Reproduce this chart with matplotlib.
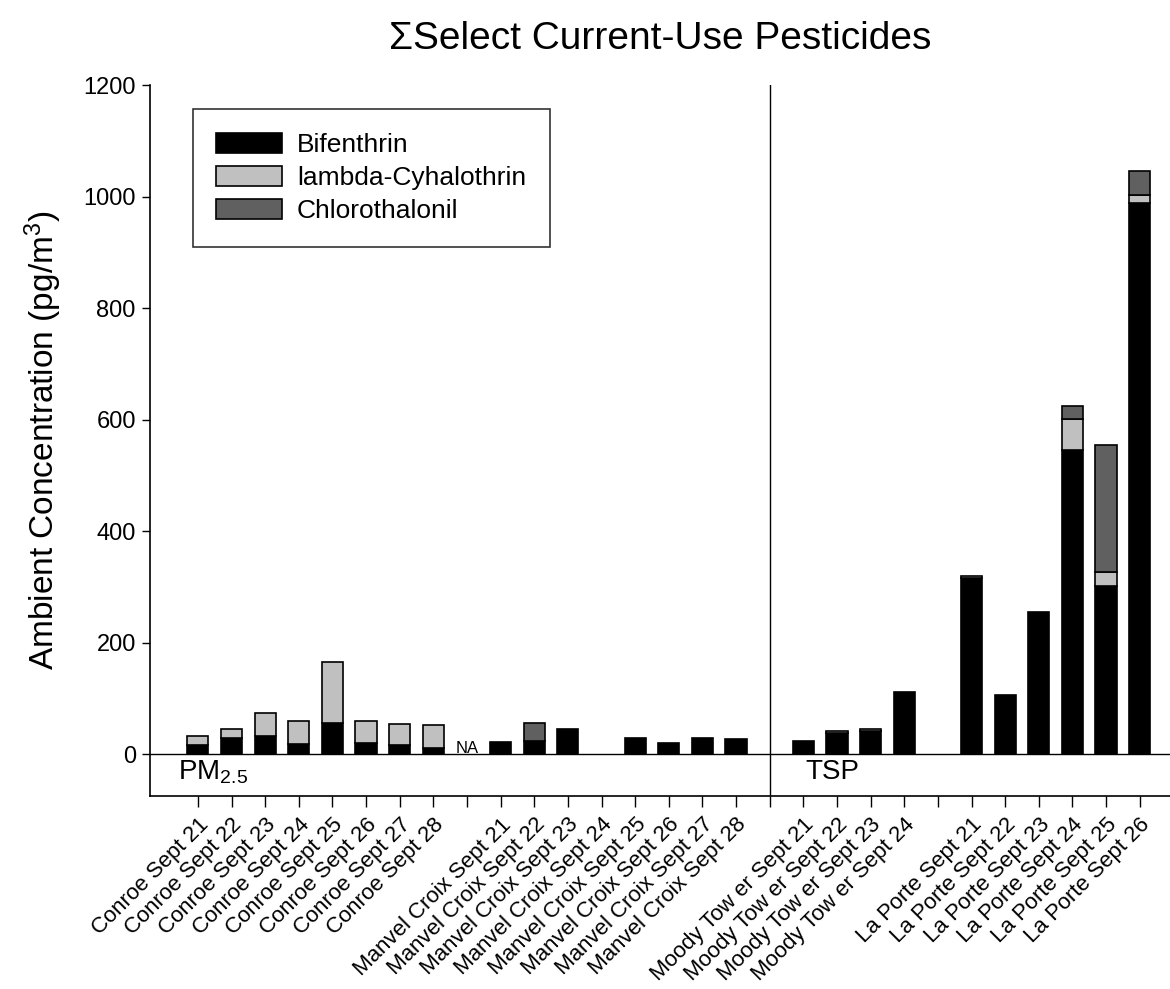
import numpy as np
import matplotlib
matplotlib.use("Agg")
import matplotlib.pyplot as plt
from matplotlib.patches import Patch

plt.rcParams['font.family'] = ['Liberation Sans', 'DejaVu Sans']
plt.rcParams['mathtext.fontset'] = 'custom'
plt.rcParams['mathtext.rm'] = 'Liberation Sans'
plt.rcParams['mathtext.it'] = 'Liberation Sans:italic'

# categories, in plot order ('' = empty slot)
labels = ['Conroe Sept 21', 'Conroe Sept 22', 'Conroe Sept 23', 'Conroe Sept 24',
          'Conroe Sept 25', 'Conroe Sept 26', 'Conroe Sept 27', 'Conroe Sept 28',
          '',
          'Manvel Croix Sept 21', 'Manvel Croix Sept 22', 'Manvel Croix Sept 23',
          'Manvel Croix Sept 24', 'Manvel Croix Sept 25', 'Manvel Croix Sept 26',
          'Manvel Croix Sept 27', 'Manvel Croix Sept 28',
          '',
          'Moody Tow er Sept 21', 'Moody Tow er Sept 22', 'Moody Tow er Sept 23',
          'Moody Tow er Sept 24',
          '',
          'La Porte Sept 21', 'La Porte Sept 22', 'La Porte Sept 23',
          'La Porte Sept 24', 'La Porte Sept 25', 'La Porte Sept 26']

bifenthrin = [16, 30, 32, 18, 56, 21, 16, 11,
              0,
              22, 23, 45, 0, 30, 21, 29, 27,
              0,
              23, 39, 41, 111,
              0,
              316, 106, 256, 545, 301, 988]
lambda_cyh = [16, 15, 42, 41, 109, 38, 38, 41,
              0,
              0, 0, 0, 0, 0, 0, 0, 0,
              0,
              0, 3, 4, 0,
              0,
              3, 0, 0, 56, 25, 15]
chlorothal = [0, 0, 0, 0, 0, 0, 0, 0,
              0,
              0, 33, 0, 0, 0, 0, 0, 0,
              0,
              0, 0, 0, 0,
              0,
              0, 0, 0, 23, 228, 43]

series_names = ['Bifenthrin', 'lambda-Cyhalothrin', 'Chlorothalonil']
series_colors = ['black', '#c0c0c0', '#606060']

na_slot = 8
divider = 17

x = np.arange(len(labels))
b = np.array(bifenthrin)
l = np.array(lambda_cyh)
c = np.array(chlorothal)

fig = plt.figure(figsize=(11.7, 9.89), dpi=100)
ax = fig.add_axes([0.128, 0.195, 0.872, 0.719])

w = 0.63
ax.bar(x, b, w, color=series_colors[0], edgecolor='black', linewidth=1.2)
ax.bar(x, l, w, bottom=b, color=series_colors[1], edgecolor='black', linewidth=1.2)
ax.bar(x, c, w, bottom=b + l, color=series_colors[2], edgecolor='black', linewidth=1.2)

# zero-height segments would draw a stray outline
for p in ax.patches:
    if p.get_height() == 0:
        p.set_visible(False)

ax.axhline(0, color='black', linewidth=1)
ax.axvline(divider, color='black', linewidth=1)

ax.set_xlim(-1.43, 28.9)
ax.set_ylim(-75, 1200)
ax.set_yticks(np.arange(0, 1201, 200))
ax.set_xticks(x)
ax.set_xticklabels(labels, rotation=45, ha='right', rotation_mode='anchor', fontsize=16)
ax.tick_params(axis='y', labelsize=17, length=6, width=1, pad=4)
ax.tick_params(axis='x', length=8, width=1, pad=5)
ax.spines['top'].set_visible(False)
ax.spines['right'].set_visible(False)
ax.spines['left'].set_linewidth(1.2)
ax.spines['bottom'].set_linewidth(1.2)

ax.set_ylabel('Ambient Concentration (pg/m$^3$)', fontsize=24, labelpad=14)
ax.set_title('\u03a3Select Current-Use Pesticides', fontsize=28, pad=26)

ax.text(na_slot, 3, 'NA', ha='center', va='baseline', fontsize=12)
ax.text(-0.6, -32, 'PM$_{2.5}$', ha='left', va='center', fontsize=20)
ax.text(divider + 1.05, -32, 'TSP', ha='left', va='center', fontsize=20)

handles = [Patch(facecolor=col, edgecolor='black', linewidth=1.2) for col in series_colors]
leg = ax.legend(handles, series_names, loc='upper left', bbox_to_anchor=(0.042, 0.966),
                fontsize=19, frameon=True, fancybox=False, edgecolor='black',
                handlelength=2.5, handleheight=0.8, borderpad=0.89,
                labelspacing=0.34, handletextpad=0.57, borderaxespad=0)
leg.get_frame().set_linewidth(1.2)

fig.savefig('out.png', dpi=100)
